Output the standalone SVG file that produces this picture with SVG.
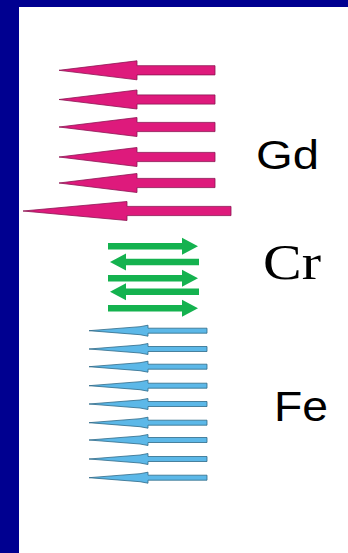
<svg xmlns="http://www.w3.org/2000/svg" width="348" height="553" viewBox="0 0 348 553">
<style>
.gd{fill:#DE1A7C;stroke:#8C1452;stroke-width:0.8;stroke-linejoin:miter}
.cr{fill:#14B24F;stroke:none}
.fe{fill:#5CB8E8;stroke:#2E6A88;stroke-width:0.8}
.sans{font-family:"Liberation Sans",Arial,sans-serif;fill:#000}
.serif{font-family:"Liberation Serif","Times New Roman",serif;fill:#000}
</style>
<defs>
<path id="gdA" d="M0,-4.6 L-78,-4.6 L-78,-9.5 L-156,0 L-78,9.5 L-78,4.6 L0,4.6 Z"/>
<path id="crR" d="M0,-3.3 L74,-3.3 L74,-8.5 L90,0 L74,8.5 L74,3.3 L0,3.3 Z"/>
<path id="crL" d="M0,-3.3 L-73,-3.3 L-73,-8.5 L-89,0 L-73,8.5 L-73,3.3 L0,3.3 Z"/>
<path id="feA" d="M0,-2.5 L-59,-2.5 L-59,-5.5 L-67,-4 L-80,-3 L-118,0 L-80,3 L-67,4 L-59,5.5 L-59,2.5 L0,2.5 Z"/>
</defs>
<rect x="0" y="0" width="348" height="553" fill="#fff"/>
<rect x="0" y="0" width="348" height="7" fill="#000090"/>
<rect x="0" y="0" width="19" height="553" fill="#000090"/>
<g id="gd-arrows">
<use href="#gdA" class="gd" transform="translate(215,70.3)"/>
<use href="#gdA" class="gd" transform="translate(215,99.5)"/>
<use href="#gdA" class="gd" transform="translate(215,127)"/>
<use href="#gdA" class="gd" transform="translate(215,157)"/>
<use href="#gdA" class="gd" transform="translate(215,183)"/>
<path class="gd" d="M231,206.4 L127,206.4 L127,201.5 L23,211 L127,220.5 L127,215.6 L231,215.6 Z"/>
</g>
<g id="cr-arrows">
<use href="#crR" class="cr" transform="translate(108,246.3)"/>
<use href="#crL" class="cr" transform="translate(199,262)"/>
<use href="#crR" class="cr" transform="translate(108,278.2)"/>
<use href="#crL" class="cr" transform="translate(199,291.8)"/>
<use href="#crR" class="cr" transform="translate(108,308.2)"/>
</g>
<g id="fe-arrows">
<use href="#feA" class="fe" transform="translate(207,330.7)"/>
<use href="#feA" class="fe" transform="translate(207,349)"/>
<use href="#feA" class="fe" transform="translate(207,366.7)"/>
<use href="#feA" class="fe" transform="translate(207,385.7)"/>
<use href="#feA" class="fe" transform="translate(207,404)"/>
<use href="#feA" class="fe" transform="translate(207,422.7)"/>
<use href="#feA" class="fe" transform="translate(207,440)"/>
<use href="#feA" class="fe" transform="translate(207,459)"/>
<use href="#feA" class="fe" transform="translate(207,477.7)"/>
</g>
<g id="label-gd"><text class="sans" x="256" y="169" font-size="40" textLength="63" lengthAdjust="spacingAndGlyphs">Gd</text></g>
<g id="label-cr"><text class="serif" x="263" y="279" font-size="51" textLength="58" lengthAdjust="spacingAndGlyphs">Cr</text></g>
<g id="label-fe"><text class="sans" x="274" y="421" font-size="42" textLength="54" lengthAdjust="spacingAndGlyphs">Fe</text></g>
</svg>
